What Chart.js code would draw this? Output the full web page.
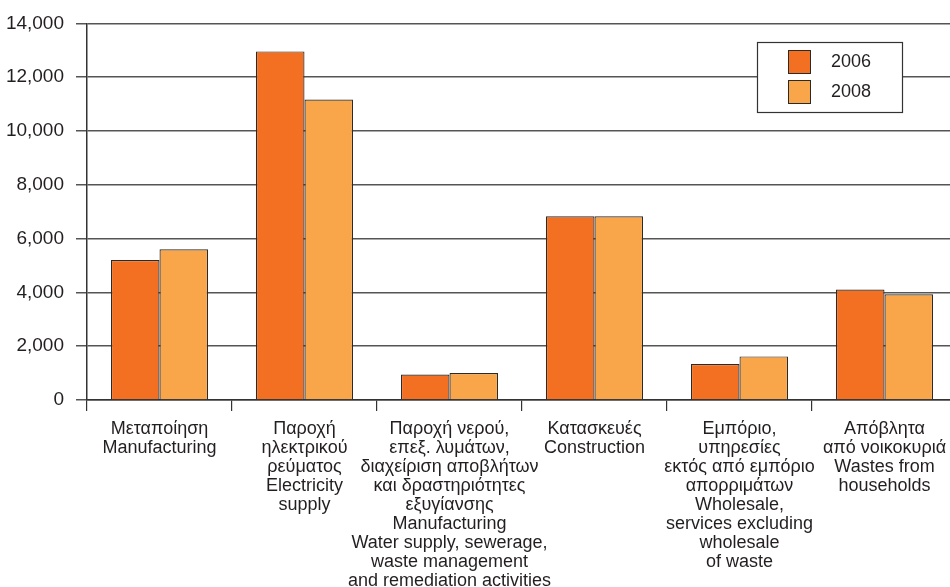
<!DOCTYPE html>
<html>
<head>
<meta charset="utf-8">
<script src="https://cdn.jsdelivr.net/npm/chart.js@4"></script>
<style>
    html, body { margin: 0; padding: 0; background: #fff; overflow: hidden; }
    #wrap { width: 958px; height: 587px; }
</style>
</head>
<body>
<div id="wrap"><canvas id="chart"></canvas></div>
<script>
// categories (Greek + English, one entry per line)
const categories = [
    ["Μεταποίηση", "Manufacturing"],
    ["Παροχή", "ηλεκτρικού", "ρεύματος", "Electricity", "supply"],
    ["Παροχή νερού,", "επεξ. λυμάτων,", "διαχείριση αποβλήτων", "και δραστηριότητες", "εξυγίανσης",
        "Manufacturing", "Water supply, sewerage,", "waste management", "and remediation activities"],
    ["Κατασκευές", "Construction"],
    ["Εμπόριο,", "υπηρεσίες", "εκτός από εμπόριο", "απορριμάτων", "Wholesale,", "services excluding", "wholesale", "of waste"],
    ["Απόβλητα", "από νοικοκυριά", "Wastes from", "households"]
];
const values2006 = [5200, 12960, 950, 6830, 1340, 4110];
const values2008 = [5600, 11170, 1000, 6830, 1620, 3930];
const yTicks = [0, 2000, 4000, 6000, 8000, 10000, 12000, 14000];

const textColor = '#231f20';
const fontFamily = '"Liberation Sans", Arial, sans-serif';

// legend box drawn inside the plot, top right
const boxLegend = {
    id: 'boxLegend',
    afterDraw(chart) {
        const ctx = chart.ctx;
        ctx.save();
        ctx.fillStyle = '#fff';
        ctx.fillRect(757, 42, 145, 70);
        ctx.strokeStyle = '#333';
        ctx.lineWidth = 1.2;
        ctx.strokeRect(757.5, 42.5, 145, 70);
        chart.data.datasets.forEach((ds, i) => {
            const y = 50 + i * 30;
            ctx.fillStyle = ds.backgroundColor;
            ctx.fillRect(788, y, 22, 23);
            ctx.strokeStyle = '#2a2a2a';
            ctx.lineWidth = 1;
            ctx.strokeRect(788.5, y + 0.5, 22, 23);
            ctx.fillStyle = textColor;
            ctx.font = '18px ' + fontFamily;
            ctx.textBaseline = 'middle';
            ctx.fillText(ds.label, 831, y + 12);
        });
        ctx.restore();
    }
};

new Chart(document.getElementById('chart'), {
    type: 'bar',
    data: {
        labels: categories,
        datasets: [{
            label: '2006',
            data: values2006,
            backgroundColor: '#f37022',
            borderColor: '#2a2a2a',
            borderWidth: 1.2
        }, {
            label: '2008',
            data: values2008,
            backgroundColor: '#f9a64a',
            borderColor: '#2a2a2a',
            borderWidth: 1.2
        }]
    },
    options: {
        responsive: true,
        maintainAspectRatio: false,
        animation: false,
        categoryPercentage: 0.67,
        barPercentage: 1,
        layout: {padding: {top: 23, right: 1, left: 0, bottom: 0}},
        plugins: {
            legend: {display: false},
            tooltip: {enabled: false}
        },
        scales: {
            x: {
                afterFit: scale => { scale.height = 187; },
                border: {color: '#333', width: 1.5},
                grid: {
                    offset: true,
                    drawOnChartArea: false,
                    color: '#333',
                    tickLength: 11,
                    lineWidth: 1.2
                },
                ticks: {
                    color: textColor,
                    padding: 8,
                    maxRotation: 0,
                    autoSkip: false,
                    font: {family: fontFamily, size: 18, lineHeight: 1.06}
                }
            },
            y: {
                min: 0,
                max: 14000,
                afterFit: scale => { scale.width = 87; },
                afterBuildTicks: scale => { scale.ticks = yTicks.map(v => ({value: v})); },
                border: {color: '#333', width: 1.5},
                grid: {
                    color: '#555',
                    lineWidth: 1.5,
                    tickLength: 11
                },
                ticks: {
                    color: textColor,
                    padding: 12,
                    font: {family: fontFamily, size: 19},
                    callback: v => v.toLocaleString('en-US')
                }
            }
        }
    },
    plugins: [boxLegend]
});
</script>
</body>
</html>
